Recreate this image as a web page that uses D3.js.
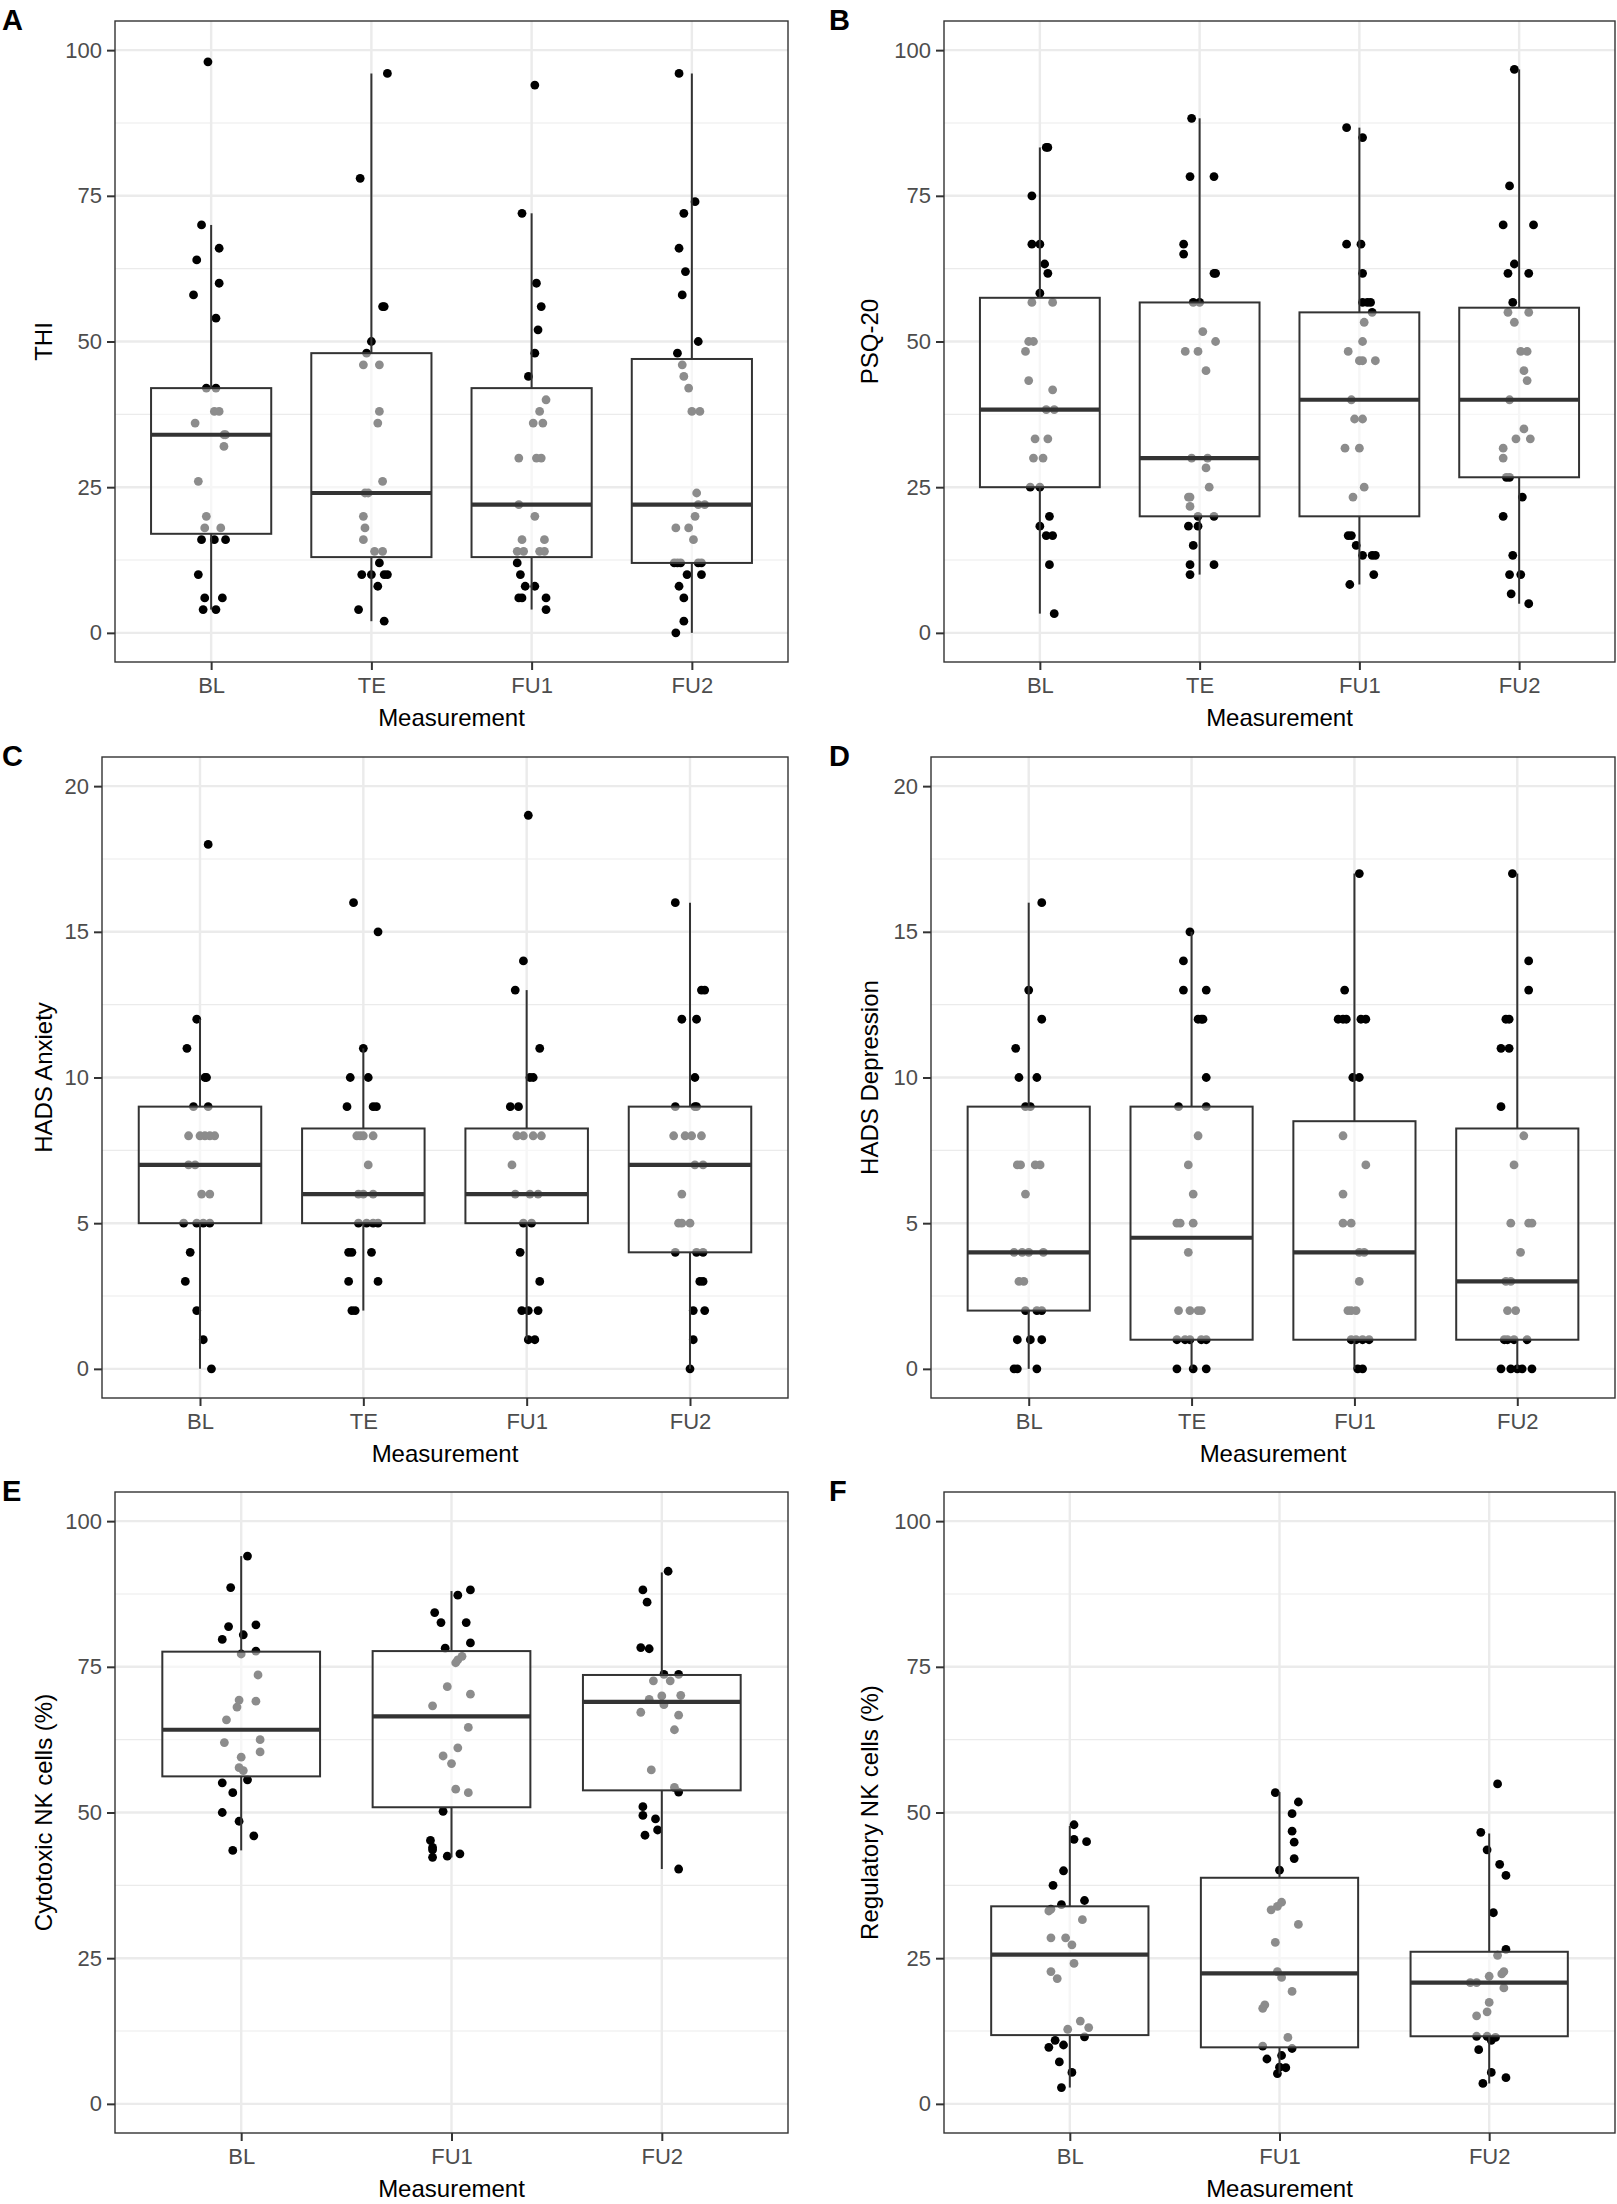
<!DOCTYPE html>
<html>
<head>
<meta charset="utf-8">
<script src="https://cdn.jsdelivr.net/npm/d3@7"></script>
<style>
  body { margin: 0; background: #fff; }
  svg { display: block; font-family: "Liberation Sans", Arial, Helvetica, sans-serif; }
</style>
</head>
<body>
<svg id="chart" width="1617" height="2204"></svg>
<script>
// categories
var cats4 = ["BL", "TE", "FU1", "FU2"];
var cats3 = ["BL", "FU1", "FU2"];

// jittered points: [x offset in category widths, value]
var thiBL = [[-0.02,98],[-0.06,70],[-0.09,64],[0.05,66],[0.05,60],[-0.11,58],[0.03,54],[-0.03,42],[0.03,42],[0.02,38],[0.05,38],[-0.10,36],[0.08,34],[0.09,34],[0.08,32],[-0.08,26],[-0.03,20],[-0.04,18],[0.06,18],[-0.06,16],[0.02,16],[0.09,16],[-0.08,10],[-0.04,6],[0.07,6],[-0.05,4],[0.03,4]];
var thiTE = [[0.10,96],[-0.07,78],[0.07,56],[0.08,56],[0,50],[-0.03,48],[-0.05,46],[0.05,46],[0.05,38],[0.04,36],[0.07,26],[-0.04,24],[-0.02,24],[-0.05,20],[-0.04,18],[-0.05,16],[0.02,14],[0.07,14],[0.05,12],[-0.06,10],[0,10],[0.08,10],[0.10,10],[0.04,8],[-0.08,4],[0.08,2]];
var thiFU1 = [[0.02,94],[-0.06,72],[0.03,60],[0.06,56],[0.04,52],[0.02,48],[-0.02,44],[0.09,40],[0.05,38],[0.01,36],[0.07,36],[-0.08,30],[0.03,30],[0.06,30],[-0.08,22],[0.02,20],[-0.06,16],[0.08,16],[-0.09,14],[-0.05,14],[0.05,14],[0.08,14],[-0.09,12],[-0.07,10],[-0.04,8],[0.02,8],[-0.08,6],[-0.06,6],[0.09,6],[0.09,4]];
var thiFU2 = [[-0.08,96],[0.02,74],[-0.05,72],[-0.08,66],[-0.04,62],[-0.06,58],[0.04,50],[-0.09,48],[-0.06,46],[-0.05,44],[-0.02,42],[0,38],[0.05,38],[0.03,24],[0.04,22],[0.08,22],[0.02,20],[-0.10,18],[-0.02,18],[0.01,16],[-0.11,12],[-0.09,12],[-0.07,12],[0.04,12],[0.06,12],[-0.03,10],[0.06,10],[-0.08,8],[-0.05,6],[-0.05,2],[-0.10,0]];

var psqBL = [[0.04,83.3],[0.05,83.3],[-0.05,75],[-0.05,66.7],[0,66.7],[0.03,63.3],[0.05,61.7],[0,58.3],[-0.05,56.7],[0.08,56.7],[-0.07,50],[-0.04,50],[-0.09,48.3],[-0.07,43.3],[0.08,41.7],[0.04,38.3],[0.09,38.3],[-0.03,33.3],[0.05,33.3],[-0.04,30],[0.02,30],[-0.06,25],[0,25],[0.06,20],[0,18.3],[0.04,16.7],[0.08,16.7],[0.06,11.7],[0.09,3.3]];
var psqTE = [[-0.05,88.3],[-0.06,78.3],[0.09,78.3],[-0.10,66.7],[-0.10,65],[0.09,61.7],[0.10,61.7],[-0.04,56.7],[0,56.7],[0.02,51.7],[0.10,50],[-0.09,48.3],[-0.01,48.3],[0.04,45],[-0.05,30],[0.05,30],[0.04,28.3],[0.06,25],[-0.07,23.3],[-0.06,23.3],[-0.06,21.7],[-0.01,20],[0.09,20],[-0.07,18.3],[-0.01,18.3],[-0.04,15],[-0.06,11.7],[0.09,11.7],[-0.06,10]];
var psqFU1 = [[-0.08,86.7],[0.02,85],[-0.08,66.7],[0.01,66.7],[0.02,61.7],[0.02,56.7],[0.05,56.7],[0.07,56.7],[0.08,55],[0.03,53.3],[0.02,50],[-0.07,48.3],[0,46.7],[0.02,46.7],[0.10,46.7],[-0.05,40],[-0.03,36.7],[0.02,36.7],[-0.09,31.7],[0,31.7],[0.03,25],[-0.04,23.3],[-0.07,16.7],[-0.05,16.7],[-0.02,15],[0.02,13.3],[0.08,13.3],[0.10,13.3],[0.09,10],[-0.06,8.3]];
var psqFU2 = [[-0.03,96.7],[-0.06,76.7],[-0.10,70],[0.09,70],[-0.03,63.3],[-0.07,61.7],[0.06,61.7],[-0.04,56.7],[-0.07,55],[0.06,55],[-0.03,53.3],[0.01,48.3],[0.05,48.3],[0.03,45],[0.05,43.3],[-0.06,40],[0.03,35],[-0.02,33.3],[0.07,33.3],[-0.10,31.7],[-0.10,30],[-0.08,26.7],[-0.06,26.7],[0.02,23.3],[-0.10,20],[-0.04,13.3],[-0.06,10],[0.01,10],[-0.05,6.7],[0.06,5]];

var anxBL = [[0.05,18],[-0.02,12],[-0.08,11],[0.03,10],[0.04,10],[-0.04,9],[0.05,9],[-0.07,8],[0,8],[0.03,8],[0.06,8],[0.09,8],[-0.07,7],[-0.03,7],[0.01,6],[0.06,6],[-0.10,5],[-0.02,5],[0.02,5],[0.06,5],[-0.06,4],[-0.09,3],[-0.02,2],[0.02,1],[0.07,0]];
var anxTE = [[-0.06,16],[0.09,15],[0,11],[-0.08,10],[0.03,10],[-0.10,9],[0.06,9],[0.08,9],[-0.04,8],[-0.02,8],[0,8],[0.06,8],[0.03,7],[-0.03,6],[0,6],[0.06,6],[-0.03,5],[0.02,5],[0.06,5],[0.09,5],[-0.09,4],[-0.07,4],[0.05,4],[-0.09,3],[0.09,3],[-0.07,2],[-0.05,2]];
var anxFU1 = [[0.01,19],[-0.02,14],[-0.07,13],[0.08,11],[0.02,10],[0.04,10],[-0.10,9],[-0.05,9],[-0.06,8],[-0.02,8],[0.04,8],[0.09,8],[-0.09,7],[-0.07,6],[0.02,6],[0.07,6],[-0.02,5],[0.03,5],[-0.04,4],[0.08,3],[-0.03,2],[0.01,2],[0.07,2],[0.01,1],[0.05,1]];
var anxFU2 = [[-0.09,16],[0.07,13],[0.09,13],[-0.05,12],[0.04,12],[0.03,10],[-0.09,9],[0.03,9],[0.04,9],[-0.10,8],[-0.03,8],[0.01,8],[0.07,8],[0.03,7],[0.08,7],[-0.05,6],[-0.07,5],[-0.05,5],[0,5],[-0.09,4],[0.04,4],[0.08,4],[0.06,3],[0.08,3],[0.02,2],[0.09,2],[0.02,1],[0,0]];

var depBL = [[0.08,16],[0,13],[0.08,12],[-0.08,11],[-0.06,10],[0.05,10],[-0.02,9],[0.01,9],[-0.07,7],[-0.05,7],[0.04,7],[0.07,7],[-0.02,6],[-0.09,4],[-0.04,4],[0,4],[0.09,4],[-0.06,3],[-0.03,3],[-0.02,2],[0.05,2],[0.08,2],[-0.07,1],[0.01,1],[0.08,1],[-0.09,0],[-0.07,0],[0.05,0]];
var depTE = [[-0.01,15],[-0.05,14],[-0.05,13],[0.09,13],[0.04,12],[0.06,12],[0.07,12],[0.09,10],[-0.08,9],[0.09,9],[0.04,8],[-0.02,7],[0.01,6],[-0.09,5],[-0.07,5],[0.01,5],[-0.02,4],[-0.08,2],[-0.01,2],[0.04,2],[0.06,2],[-0.09,1],[-0.04,1],[-0.01,1],[0.06,1],[0.09,1],[-0.09,0],[0.01,0],[0.09,0]];
var depFU1 = [[0.03,17],[-0.06,13],[-0.10,12],[-0.07,12],[-0.05,12],[0.04,12],[0.07,12],[-0.01,10],[0.03,10],[-0.07,8],[0.07,7],[-0.07,6],[-0.07,5],[-0.02,5],[0.03,4],[0.06,4],[0.03,3],[-0.04,2],[-0.02,2],[0.01,2],[-0.02,1],[0.01,1],[0.05,1],[0.09,1],[0.02,0],[0.05,0]];
var depFU2 = [[-0.03,17],[0.07,14],[0.07,13],[-0.07,12],[-0.05,12],[-0.10,11],[-0.05,11],[-0.10,9],[0.04,8],[-0.02,7],[-0.04,5],[0.07,5],[0.09,5],[0.02,4],[-0.07,3],[-0.04,3],[-0.06,2],[-0.01,2],[-0.08,1],[-0.06,1],[-0.02,1],[0.06,1],[-0.10,0],[-0.04,0],[0,0],[0.03,0],[0.09,0]];

var cytBL = [[0.03,94.0],[-0.05,88.6],[-0.06,81.9],[0.07,82.2],[0.01,80.5],[-0.09,79.7],[0.07,77.7],[0,77.2],[0.08,73.6],[-0.01,69.3],[0.07,69.1],[-0.02,68.1],[-0.07,65.9],[0.09,62.5],[-0.08,62.0],[0.09,60.4],[0,59.5],[-0.01,57.7],[0.01,57.2],[0.03,55.6],[-0.09,55.1],[-0.04,53.4],[-0.09,50.0],[-0.01,48.5],[0.06,46.0],[-0.04,43.5]];
var cytFU1 = [[0.09,88.2],[0.03,87.3],[-0.08,84.3],[-0.05,82.6],[0.07,82.6],[0.09,79.1],[-0.03,78.2],[0.05,76.8],[0.03,76.2],[0.02,75.7],[-0.02,71.6],[0.09,70.3],[-0.09,68.3],[0.08,64.6],[0.03,61.1],[-0.04,59.7],[0,58.4],[0.02,54.0],[0.08,53.4],[-0.04,50.2],[-0.10,45.2],[-0.09,44.0],[-0.09,43.6],[-0.09,42.3],[-0.02,42.5],[0.04,42.9]];
var cytFU2 = [[0.03,91.4],[-0.09,88.2],[-0.07,86.1],[-0.10,78.3],[-0.06,78.1],[0.01,73.7],[0.08,73.7],[-0.04,72.6],[0.04,72.6],[0.09,70.1],[0,70.0],[-0.06,69.4],[0.01,68.5],[-0.10,67.2],[0.08,66.7],[0.06,64.2],[-0.05,57.3],[0.06,54.3],[0.08,53.5],[-0.09,51.0],[-0.09,49.5],[-0.03,48.9],[-0.02,47.0],[-0.08,46.1],[0.08,40.3]];

var regBL = [[0.02,47.9],[0.02,45.4],[0.08,45.0],[-0.03,40.0],[-0.08,37.5],[0.07,34.9],[-0.04,34.2],[-0.10,33.1],[-0.09,33.4],[0.06,31.6],[-0.09,28.5],[-0.02,28.5],[0.01,27.3],[-0.09,22.7],[0.02,24.1],[-0.06,21.5],[0.05,14.2],[-0.01,12.8],[0.09,13.1],[0.07,11.5],[-0.07,10.9],[-0.03,10.1],[-0.10,9.7],[-0.05,7.2],[0.01,5.4],[-0.04,2.8]];
var regFU1 = [[-0.02,53.4],[0.09,51.8],[0.06,49.8],[0.06,46.8],[0.07,44.9],[0.07,42.1],[0,40.1],[0.01,34.6],[-0.01,33.9],[-0.04,33.3],[0.09,30.8],[-0.02,27.7],[-0.01,22.7],[0.01,21.7],[0.06,19.3],[-0.07,17.0],[-0.08,16.4],[0.04,11.4],[-0.08,9.9],[0.06,9.5],[0.01,8.3],[-0.06,7.7],[0,6.3],[0.03,6.2],[-0.01,5.2]];
var regFU2 = [[0.04,54.9],[-0.04,46.6],[-0.01,43.6],[0.05,41.1],[0.08,39.2],[0.02,32.8],[0.08,26.5],[0.04,25.5],[0.07,22.7],[0.06,22.3],[0,21.9],[-0.09,20.8],[-0.06,20.8],[0.07,19.9],[0,17.4],[-0.01,15.8],[-0.06,15.1],[-0.06,11.6],[-0.01,11.6],[0.03,11.4],[0.01,10.9],[-0.05,9.3],[0.01,5.4],[0.08,4.5],[-0.03,3.5]];

// box stats per category: [lower whisker, Q1, median, Q3, upper whisker]
var thiBox = [[4,17,34,42,70],[2,13,24,48,96],[4,13,22,42,72],[0,12,22,47,96]];
var psqBox = [[3.3,25,38.3,57.5,83.3],[10,20,30,56.7,88.3],[8.3,20,40,55,86.7],[5,26.7,40,55.8,96.7]];
var anxBox = [[0,5,7,9,12],[2,5,6,8.25,11],[1,5,6,8.25,13],[0,4,7,9,16]];
var depBox = [[0,2,4,9,16],[0,1,4.5,9,15],[0,1,4,8.5,17],[0,1,3,8.25,17]];
var cytBox = [[43.5,56.2,64.2,77.6,94],[42.3,50.9,66.5,77.7,88],[40.3,53.8,69.0,73.6,91.2]];
var regBox = [[2.8,11.8,25.6,33.9,47.7],[5.2,9.7,22.4,38.8,53.5],[3.5,11.6,20.8,26.1,46.4]];

// axis ticks
var ticks100 = [0, 25, 50, 75, 100];
var minor100 = [12.5, 37.5, 62.5, 87.5];
var ticks20 = [0, 5, 10, 15, 20];
var minor20 = [2.5, 7.5, 12.5, 17.5];

var panels = [
  {label: "A", ylab: "THI", cats: cats4, pts: [thiBL, thiTE, thiFU1, thiFU2], box: thiBox,
   dom: [-5, 105], ticks: ticks100, minor: minor100, x0: 115, x1: 788, y0: 21, y1: 662, lx: 2, tx: 52},
  {label: "B", ylab: "PSQ-20", cats: cats4, pts: [psqBL, psqTE, psqFU1, psqFU2], box: psqBox,
   dom: [-5, 105], ticks: ticks100, minor: minor100, x0: 944, x1: 1615, y0: 21, y1: 662, lx: 829, tx: 878},
  {label: "C", ylab: "HADS Anxiety", cats: cats4, pts: [anxBL, anxTE, anxFU1, anxFU2], box: anxBox,
   dom: [-1, 21], ticks: ticks20, minor: minor20, x0: 102, x1: 788, y0: 757, y1: 1398, lx: 2, tx: 52},
  {label: "D", ylab: "HADS Depression", cats: cats4, pts: [depBL, depTE, depFU1, depFU2], box: depBox,
   dom: [-1, 21], ticks: ticks20, minor: minor20, x0: 931, x1: 1615, y0: 757, y1: 1398, lx: 829, tx: 878},
  {label: "E", ylab: "Cytotoxic NK cells (%)", cats: cats3, pts: [cytBL, cytFU1, cytFU2], box: cytBox,
   dom: [-5, 105], ticks: ticks100, minor: minor100, x0: 115, x1: 788, y0: 1492, y1: 2133, lx: 2, tx: 52},
  {label: "F", ylab: "Regulatory NK cells (%)", cats: cats3, pts: [regBL, regFU1, regFU2], box: regBox,
   dom: [-5, 105], ticks: ticks100, minor: minor100, x0: 944, x1: 1615, y0: 1492, y1: 2133, lx: 829, tx: 878}
];

var svg = d3.select("#chart");
svg.append("rect").attr("width", 1617).attr("height", 2204).attr("fill", "#fff");

panels.forEach(function(p) {
    var g = svg.append("g");
    var x = d3.scalePoint().domain(p.cats).range([p.x0, p.x1]).padding(0.6);
    var y = d3.scaleLinear().domain(p.dom).range([p.y1, p.y0]);
    var step = x.step();

    // grid
    g.selectAll(".minor").data(p.minor).enter().append("line")
        .attr("x1", p.x0).attr("x2", p.x1)
        .attr("y1", function(d) { return y(d); }).attr("y2", function(d) { return y(d); })
        .attr("stroke", "#EBEBEB").attr("stroke-width", 1.2);
    g.selectAll(".major").data(p.ticks).enter().append("line")
        .attr("x1", p.x0).attr("x2", p.x1)
        .attr("y1", function(d) { return y(d); }).attr("y2", function(d) { return y(d); })
        .attr("stroke", "#EBEBEB").attr("stroke-width", 2.4);
    g.selectAll(".vgrid").data(p.cats).enter().append("line")
        .attr("x1", function(d) { return x(d); }).attr("x2", function(d) { return x(d); })
        .attr("y1", p.y0).attr("y2", p.y1)
        .attr("stroke", "#EBEBEB").attr("stroke-width", 2.4);

    // jittered points
    p.cats.forEach(function(c, i) {
        g.append("g").selectAll("circle").data(p.pts[i]).enter().append("circle")
            .attr("cx", function(d) { return x(c) + d[0] * step; })
            .attr("cy", function(d) { return y(d[1]); })
            .attr("r", 4.4)
            .attr("fill", "#000");
    });

    // boxplots on top, half-transparent white fill
    var bw = step * 0.75;
    p.cats.forEach(function(c, i) {
        var b = p.box[i], cx = x(c);
        g.append("line").attr("x1", cx).attr("x2", cx).attr("y1", y(b[3])).attr("y2", y(b[4]))
            .attr("stroke", "#333333").attr("stroke-width", 2);
        g.append("line").attr("x1", cx).attr("x2", cx).attr("y1", y(b[1])).attr("y2", y(b[0]))
            .attr("stroke", "#333333").attr("stroke-width", 2);
        g.append("rect")
            .attr("x", cx - bw / 2).attr("width", bw)
            .attr("y", y(b[3])).attr("height", y(b[1]) - y(b[3]))
            .attr("fill", "#fff").attr("fill-opacity", 0.55)
            .attr("stroke", "#333333").attr("stroke-width", 2);
        g.append("line").attr("x1", cx - bw / 2).attr("x2", cx + bw / 2)
            .attr("y1", y(b[2])).attr("y2", y(b[2]))
            .attr("stroke", "#333333").attr("stroke-width", 4.2);
    });

    // panel border
    g.append("rect").attr("x", p.x0).attr("y", p.y0)
        .attr("width", p.x1 - p.x0).attr("height", p.y1 - p.y0)
        .attr("fill", "none").attr("stroke", "#333333").attr("stroke-width", 1.4);

    // axes
    var ya = g.append("g").attr("transform", "translate(" + p.x0 + ",0)")
        .call(d3.axisLeft(y).tickValues(p.ticks).tickSize(8).tickPadding(5));
    var xa = g.append("g").attr("transform", "translate(0," + p.y1 + ")")
        .call(d3.axisBottom(x).tickSize(8).tickPadding(6));
    [ya, xa].forEach(function(a) {
        a.select(".domain").remove();
        a.selectAll(".tick line").attr("stroke", "#333333").attr("stroke-width", 2);
        a.selectAll(".tick text").attr("fill", "#4D4D4D")
            .style("font-size", "22px")
            .attr("font-family", "Liberation Sans, Arial, sans-serif");
    });
    xa.selectAll(".tick text").attr("dy", "0.78em");

    // titles
    g.append("text")
        .attr("x", (p.x0 + p.x1) / 2).attr("y", p.y1 + 64)
        .attr("text-anchor", "middle")
        .style("font-size", "24px").attr("fill", "#000")
        .text("Measurement");
    g.append("text")
        .attr("transform", "translate(" + p.tx + "," + (p.y0 + p.y1) / 2 + ") rotate(-90)")
        .attr("text-anchor", "middle")
        .style("font-size", "24px").attr("fill", "#000")
        .text(p.ylab);
    g.append("text")
        .attr("x", p.lx).attr("y", p.y0 + 9)
        .style("font-size", "29px").style("font-weight", "bold").attr("fill", "#000")
        .text(p.label);
});
</script>
</body>
</html>
